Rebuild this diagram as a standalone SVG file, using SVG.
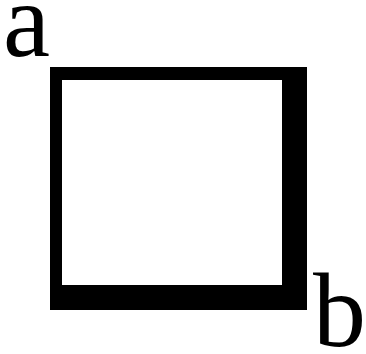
<svg xmlns="http://www.w3.org/2000/svg" width="366" height="354" viewBox="0 0 366 354">
<rect width="366" height="354" fill="#fff"/>
<g id="square">
<path d="M50,67H307V310H50Z M62,80V285H282V80Z" fill="#000" fill-rule="evenodd"/>
</g>
<g id="label-a" transform="translate(3,56) scale(1.325)"><text x="0" y="0" font-family="Liberation Serif, serif" font-size="80" fill="#000">a</text></g>
<g id="label-b" transform="translate(313,346) scale(1.325)"><text x="0" y="0" font-family="Liberation Serif, serif" font-size="80" fill="#000">b</text></g>
</svg>
